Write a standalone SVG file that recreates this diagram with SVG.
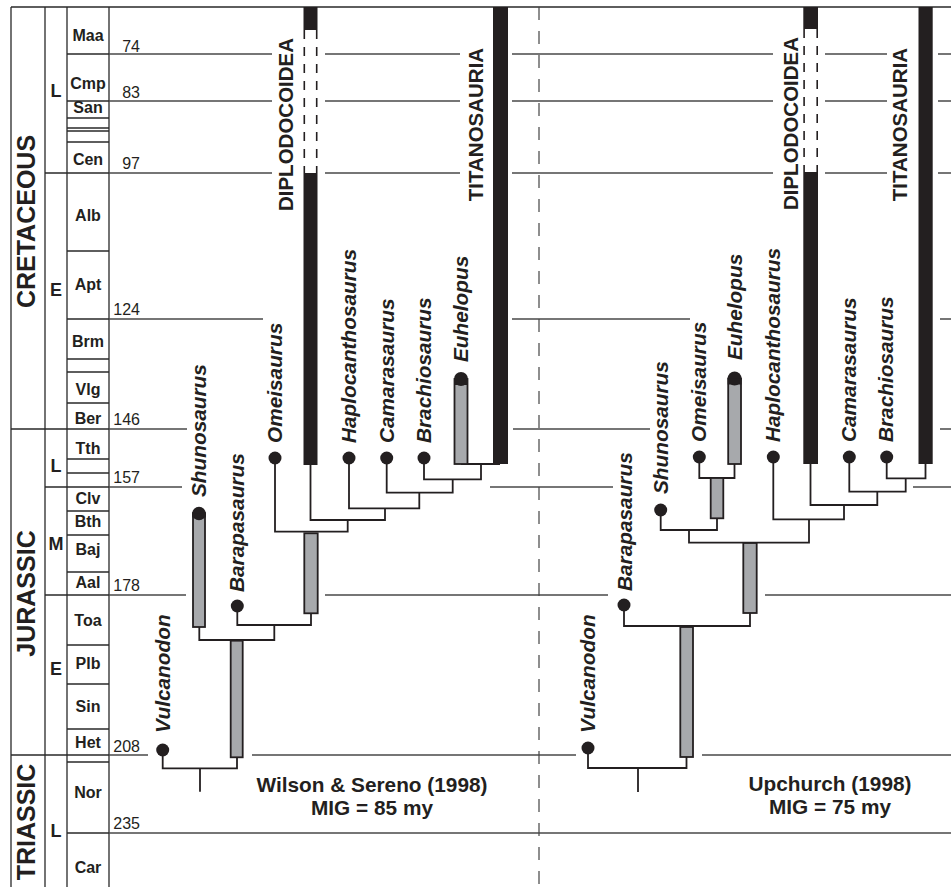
<svg xmlns="http://www.w3.org/2000/svg" width="951" height="890" viewBox="0 0 951 890">
<style>
.frame{stroke:#2a2a2a;stroke-width:1.3;fill:none}
.tl{stroke:#4a4a4a;stroke-width:1.3;fill:none}
.conn{stroke:#231f20;stroke-width:1.8;fill:none}
.gray{fill:#a7a9ac;stroke:#231f20;stroke-width:1.8}
.blk{fill:#231f20}
.dash{stroke:#231f20;stroke-width:1.6;stroke-dasharray:9 8;fill:none}
.div{stroke:#444;stroke-width:1.2;stroke-dasharray:13 11;fill:none}
.per{font-family:"Liberation Sans",Arial,sans-serif;font-weight:bold;font-size:25px;fill:#231f20;text-anchor:middle}
.ep{font-family:"Liberation Sans",Arial,sans-serif;font-weight:bold;font-size:18px;fill:#231f20;text-anchor:middle}
.st{font-family:"Liberation Sans",Arial,sans-serif;font-weight:bold;font-size:16px;fill:#231f20;text-anchor:middle}
.num{font-family:"Liberation Sans",Arial,sans-serif;font-size:16px;fill:#231f20;text-anchor:end}
.tax{font-family:"Liberation Sans",Arial,sans-serif;font-weight:bold;font-style:italic;font-size:20.8px;fill:#231f20}
.cl{font-family:"Liberation Sans",Arial,sans-serif;font-weight:bold;font-size:20.5px;fill:#231f20;text-anchor:middle}
.ttl{font-family:"Liberation Sans",Arial,sans-serif;font-weight:bold;font-size:20.8px;fill:#231f20;text-anchor:middle}
</style>
<rect width="951" height="890" fill="#fff"/>

<g id="timescale">
  <path class="frame" d="M11,7 H951 M11,7 V887 M45,7 V887 M67,7 V887 M109,7 V887"/>
  <path class="frame" d="M11,429 H109 M11,755 H109"/>
  <path class="frame" d="M45,173 H109 M45,487 H109 M45,595 H109"/>
  <path class="frame" d="M67,54 H109 M67,101 H109 M67,118 H109 M67,128 H109 M67,131 H109 M67,142 H109 M67,251 H109 M67,319 H109 M67,359 H109 M67,372 H109 M67,403 H109 M67,459 H109 M67,473 H109 M67,511 H109 M67,535 H109 M67,572 H109 M67,645 H109 M67,684 H109 M67,729 H109 M67,762 H109 M67,833 H109"/>
  <text class="per" transform="translate(35,221.5) rotate(-90)">CRETACEOUS</text>
  <text class="per" transform="translate(35,593.5) rotate(-90)">JURASSIC</text>
  <text class="per" transform="translate(35,822) rotate(-90)">TRIASSIC</text>
  <text class="ep" x="56" y="97">L</text>
  <text class="ep" x="56" y="296">E</text>
  <text class="ep" x="56" y="472">L</text>
  <text class="ep" x="56" y="550">M</text>
  <text class="ep" x="56" y="675">E</text>
  <text class="ep" x="56" y="837">L</text>
  <text class="st" x="88" y="41">Maa</text>
  <text class="st" x="88" y="89">Cmp</text>
  <text class="st" x="88" y="113">San</text>
  <text class="st" x="88" y="165">Cen</text>
  <text class="st" x="88" y="221">Alb</text>
  <text class="st" x="88" y="290">Apt</text>
  <text class="st" x="88" y="347">Brm</text>
  <text class="st" x="88" y="395">Vlg</text>
  <text class="st" x="88" y="424">Ber</text>
  <text class="st" x="88" y="454">Tth</text>
  <text class="st" x="88" y="504">Clv</text>
  <text class="st" x="88" y="527">Bth</text>
  <text class="st" x="88" y="555">Baj</text>
  <text class="st" x="88" y="588">Aal</text>
  <text class="st" x="88" y="626">Toa</text>
  <text class="st" x="88" y="669">Plb</text>
  <text class="st" x="88" y="712">Sin</text>
  <text class="st" x="88" y="748">Het</text>
  <text class="st" x="88" y="798">Nor</text>
  <text class="st" x="88" y="873">Car</text>
  <text class="num" x="140" y="52">74</text>
  <text class="num" x="140" y="98">83</text>
  <text class="num" x="140" y="169">97</text>
  <text class="num" x="140" y="315">124</text>
  <text class="num" x="140" y="425">146</text>
  <text class="num" x="140" y="483">157</text>
  <text class="num" x="140" y="591">178</text>
  <text class="num" x="140" y="752">208</text>
  <text class="num" x="140" y="829">235</text>
  <path class="tl" d="M109,54 H272 M325,54 H460 M512,54 H773 M825,54 H887 M938,54 H951
    M109,101 H272 M325,101 H460 M512,101 H773 M825,101 H887 M938,101 H951
    M109,173 H272 M325,173 H460 M512,173 H773 M825,173 H887 M938,173 H951
    M109,319 H263 M512,319 H690 M940,319 H951
    M109,429 H187 M513,429 H650 M940,429 H951
    M109,487 H182 M490,487 H613 M913,487 H951
    M109,595 H186 M325,595 H608 M765,595 H951
    M109,755 H148 M252,755 H576 M702,755 H951
    M109,833 H951"/>
  <path class="div" d="M539,7 V887"/>
</g>

<g id="connectors">
  <path class="conn" d="M162.7,750 V768.3 H237 V757"/>
  <path class="conn" d="M200,768.3 V791.7"/>
  <path class="conn" d="M199.3,627 V640 H274.3 V625"/>
  <path class="conn" d="M237.3,606 V625 H311 V613"/>
  <path class="conn" d="M275,458 V531.7 H347.7 V520"/>
  <path class="conn" d="M310.5,465 V520 H385 V508.3"/>
  <path class="conn" d="M349,458 V508.3 H419.3 V492.7"/>
  <path class="conn" d="M386.7,458 V492.7 H452.7 V479.3"/>
  <path class="conn" d="M424,458 V479.3 H481 V464"/>
  <path class="conn" d="M461,464 H500"/>
  <path class="conn" d="M588,748 V768 H686.5 V757"/>
  <path class="conn" d="M638,768 V792"/>
  <path class="conn" d="M624,605 V626 H750 V613"/>
  <path class="conn" d="M689,530 V542.7 H809 V519.3"/>
  <path class="conn" d="M660.7,510 V530 H717 V518"/>
  <path class="conn" d="M699.3,457 V478 H734.5 V464"/>
  <path class="conn" d="M773.3,457 V519.3 H844 V505"/>
  <path class="conn" d="M810.5,464 V505 H877.3 V491.7"/>
  <path class="conn" d="M849.3,457 V491.7 H905.7 V478.3"/>
  <path class="conn" d="M886.7,457 V478.3 H925.5 V464"/>
</g>

<g id="ws-vulcanodon">
  <circle class="blk" cx="162.7" cy="750" r="6.5"/>
  <text class="tax" transform="translate(170,733) rotate(-90)">Vulcanodon</text>
</g>
<g id="ws-stem-root">
  <rect class="gray" x="230.7" y="640.7" width="12" height="116.6"/>
</g>
<g id="ws-shunosaurus">
  <rect class="gray" x="193" y="513" width="12" height="114"/>
  <circle class="blk" cx="199" cy="513.5" r="6.8"/>
  <rect class="blk" x="192.2" y="513.5" width="13.6" height="4"/>
  <text class="tax" transform="translate(206,497) rotate(-90)">Shunosaurus</text>
</g>
<g id="ws-barapasaurus">
  <circle class="blk" cx="237.3" cy="606" r="6.5"/>
  <text class="tax" transform="translate(244,592) rotate(-90)">Barapasaurus</text>
</g>
<g id="ws-stem-eusauropoda">
  <rect class="gray" x="304.3" y="533.3" width="13.4" height="80"/>
</g>
<g id="ws-omeisaurus">
  <circle class="blk" cx="275" cy="458" r="6.5"/>
  <text class="tax" transform="translate(282,443) rotate(-90)">Omeisaurus</text>
</g>
<g id="ws-diplodocoidea">
  <rect class="blk" x="303.5" y="7" width="14" height="23"/>
  <path class="dash" d="M304.3,30 V173 M316.7,30 V173"/>
  <rect class="blk" x="303.5" y="173" width="14" height="292"/>
  <text class="cl" transform="translate(293,124.5) rotate(-90)">DIPLODOCOIDEA</text>
</g>
<g id="ws-haplocanthosaurus">
  <circle class="blk" cx="349" cy="458" r="6.5"/>
  <text class="tax" transform="translate(356,443) rotate(-90)">Haplocanthosaurus</text>
</g>
<g id="ws-camarasaurus">
  <circle class="blk" cx="386.7" cy="458" r="6.5"/>
  <text class="tax" transform="translate(394,443) rotate(-90)">Camarasaurus</text>
</g>
<g id="ws-brachiosaurus">
  <circle class="blk" cx="424" cy="458" r="6.5"/>
  <text class="tax" transform="translate(431,443) rotate(-90)">Brachiosaurus</text>
</g>
<g id="ws-euhelopus">
  <rect class="gray" x="454.5" y="379" width="13" height="85"/>
  <circle class="blk" cx="461" cy="379" r="7"/>
  <rect class="blk" x="454" y="379" width="14" height="6"/>
  <text class="tax" transform="translate(468,362) rotate(-90)">Euhelopus</text>
</g>
<g id="ws-titanosauria">
  <rect class="blk" x="493" y="7" width="15" height="457"/>
  <text class="cl" transform="translate(483,124.5) rotate(-90)">TITANOSAURIA</text>
</g>
<g id="ws-title">
  <text class="ttl" x="372" y="792">Wilson &amp; Sereno (1998)</text>
  <text class="ttl" x="372" y="815">MIG = 85 my</text>
</g>

<g id="up-vulcanodon">
  <circle class="blk" cx="588" cy="748" r="6.5"/>
  <text class="tax" transform="translate(595,733) rotate(-90)">Vulcanodon</text>
</g>
<g id="up-stem-root">
  <rect class="gray" x="680.3" y="627" width="12.7" height="130"/>
</g>
<g id="up-barapasaurus">
  <circle class="blk" cx="624" cy="605" r="6.5"/>
  <text class="tax" transform="translate(632,591) rotate(-90)">Barapasaurus</text>
</g>
<g id="up-stem-eusauropoda">
  <rect class="gray" x="743.3" y="543" width="13.4" height="70"/>
</g>
<g id="up-shunosaurus">
  <circle class="blk" cx="660.7" cy="510" r="6.5"/>
  <text class="tax" transform="translate(668,494) rotate(-90)">Shunosaurus</text>
</g>
<g id="up-stem-euhelopodidae">
  <rect class="gray" x="710.7" y="478" width="12.6" height="40.3"/>
</g>
<g id="up-omeisaurus">
  <circle class="blk" cx="699.3" cy="457" r="6.5"/>
  <text class="tax" transform="translate(706,442) rotate(-90)">Omeisaurus</text>
</g>
<g id="up-euhelopus">
  <rect class="gray" x="728.2" y="378.5" width="12.8" height="85.5"/>
  <circle class="blk" cx="734.6" cy="378.5" r="6.9"/>
  <rect class="blk" x="727.7" y="378.5" width="13.8" height="6"/>
  <text class="tax" transform="translate(742,360) rotate(-90)">Euhelopus</text>
</g>
<g id="up-haplocanthosaurus">
  <circle class="blk" cx="773.3" cy="457" r="6.5"/>
  <text class="tax" transform="translate(780,442) rotate(-90)">Haplocanthosaurus</text>
</g>
<g id="up-diplodocoidea">
  <rect class="blk" x="803.3" y="7" width="14.7" height="22"/>
  <path class="dash" d="M804.1,29 V172 M817.2,29 V172"/>
  <rect class="blk" x="803.3" y="172" width="14.7" height="292"/>
  <text class="cl" transform="translate(798,123.5) rotate(-90)">DIPLODOCOIDEA</text>
</g>
<g id="up-camarasaurus">
  <circle class="blk" cx="849.3" cy="457" r="6.5"/>
  <text class="tax" transform="translate(856,442) rotate(-90)">Camarasaurus</text>
</g>
<g id="up-brachiosaurus">
  <circle class="blk" cx="886.7" cy="457" r="6.5"/>
  <text class="tax" transform="translate(893,442) rotate(-90)">Brachiosaurus</text>
</g>
<g id="up-titanosauria">
  <rect class="blk" x="918.5" y="7" width="14.2" height="457"/>
  <text class="cl" transform="translate(907,124.5) rotate(-90)">TITANOSAURIA</text>
</g>
<g id="up-title">
  <text class="ttl" x="830" y="791">Upchurch (1998)</text>
  <text class="ttl" x="830" y="814">MIG = 75 my</text>
</g>
</svg>
